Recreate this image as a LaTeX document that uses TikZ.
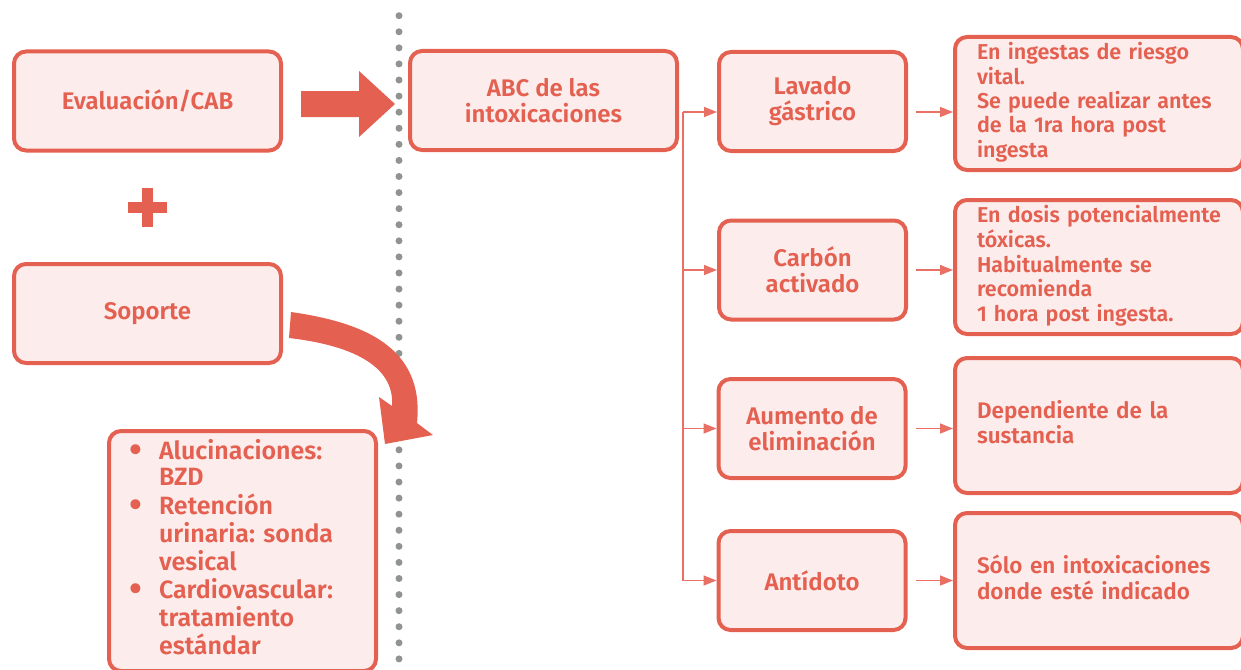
\documentclass[tikz,border=0pt]{standalone}
\usepackage{fontspec}
\setmainfont{Fira Sans}[UprightFont=* SemiBold]
\usepackage{tikz}
\usetikzlibrary{arrows.meta, positioning, calc}
\definecolor{rojo}{RGB}{228,96,80}
\definecolor{rosa}{RGB}{252,237,236}
\definecolor{linea}{RGB}{232,112,100}
\definecolor{punto}{RGB}{143,148,145}
\frenchspacing
\newcommand{\punta}{\raisebox{-3pt}[0pt][0pt]{\scalebox{1.5}{\textbullet}}}

\begin{document}
\begin{tikzpicture}[x=1pt, y=-1pt,
    box/.style={draw=rojo, fill=rosa, line width=4pt, rounded corners=12pt, text=rojo, align=center,
        font=\fontsize{24}{26}\selectfont, minimum width=267pt, minimum height=99pt, inner sep=0pt},
    mid/.style={box, minimum width=187pt},
    note/.style={box, minimum width=288pt, minimum height=134pt, text width=244pt, inner xsep=22pt,
        align=left, font=\fontsize{21.5}{24}\selectfont},
    link/.style={draw=linea, line width=1.5pt, -{Triangle[length=13pt, width=10pt]}}
]
    \useasboundingbox (0,0) rectangle (1241,669);

    % dotted divider
    \foreach \i in {0,...,40}
        \fill[punto] (399,15.7+16.08*\i) circle (3.5pt);

    \node[box] (eval)    at (147.5,101)   {Evaluación/CAB};
    \node[box] (soporte) at (147.5,313.5) {Soporte};
    \node[box] (abc)     at (543.5,100.5) {ABC de las\\intoxicaciones};

    \node[mid] (lavado)   at (812.5,101.5) {Lavado\\gástrico};
    \node[mid] (carbon)   at (812.5,270)   {Carbón\\activado};
    \node[mid] (aumento)  at (812,428.5)   {Aumento de\\eliminación};
    \node[mid] (antidoto) at (812,580.5)   {Antídoto};

    \node[note, minimum height=133pt] (r1) at (1099,103.5)
        {\begin{tabular}{@{}l@{}}En ingestas de riesgo\\vital.\\Se puede realizar antes\\de la 1ra hora post\\ingesta\end{tabular}};
    \node[note] (r2) at (1099,267)
        {\begin{tabular}{@{}l@{}}En dosis potencialmente\\tóxicas.\\Habitualmente se\\recomienda\\1 hora post ingesta.\end{tabular}};
    \node[note, minimum height=135pt, font=\fontsize{22.5}{24}\selectfont] (r3) at (1099,425.5)
        {\begin{tabular}{@{}l@{}}Dependiente de la\\sustancia\end{tabular}};
    \node[note, minimum height=135pt, font=\fontsize{22.5}{24}\selectfont] (r4) at (1099,580.5)
        {\begin{tabular}{@{}l@{}}Sólo en intoxicaciones\\donde esté indicado\end{tabular}};

    \node[box, minimum height=240pt, text width=227pt, inner xsep=20pt, align=left,
          font=\fontsize{25}{26.5}\selectfont] (lista) at (242.5,551)
        {\begin{tabular}{@{}p{30pt}@{}l@{}}
            \punta & Alucinaciones:\\ & BZD\\
            \punta & Retención\\ & urinaria: sonda\\ & vesical\\
            \punta & Cardiovascular:\\ & tratamiento\\ & estándar
         \end{tabular}};

    % plus sign
    \fill[rojo] (128,202) rectangle (167,213);
    \fill[rojo] (141.5,188) rectangle (152.5,227);

    % block arrows
    \fill[rojo] (301,91) -- (359,91) -- (359,71) -- (395,104) -- (359,137) -- (359,117) -- (301,117) -- cycle;
    \fill[rojo] (291,312) .. controls (360,322) and (425,345) .. (417,423) -- (433,435) -- (385,444)
        -- (379,397) -- (392,406) .. controls (395,365) and (350,345) .. (289,338) -- cycle;

    % branches
    \coordinate (fork) at (683,112);
    \draw[link] (fork) -- (fork -| lavado.west);
    \draw[link] (fork) |- (carbon.west);
    \draw[link] (fork) |- (aumento.west);
    \draw[link] (fork) |- (antidoto.west);

    \draw[link] ([xshift=8pt]lavado.east |- fork) -- (fork -| r1.west);
    \draw[link] ([xshift=8pt]carbon.east) -- (carbon.east -| r2.west);
    \draw[link] ([xshift=8pt]aumento.east) -- (aumento.east -| r3.west);
    \draw[link] ([xshift=8pt]antidoto.east) -- (antidoto.east -| r4.west);
\end{tikzpicture}
\end{document}
